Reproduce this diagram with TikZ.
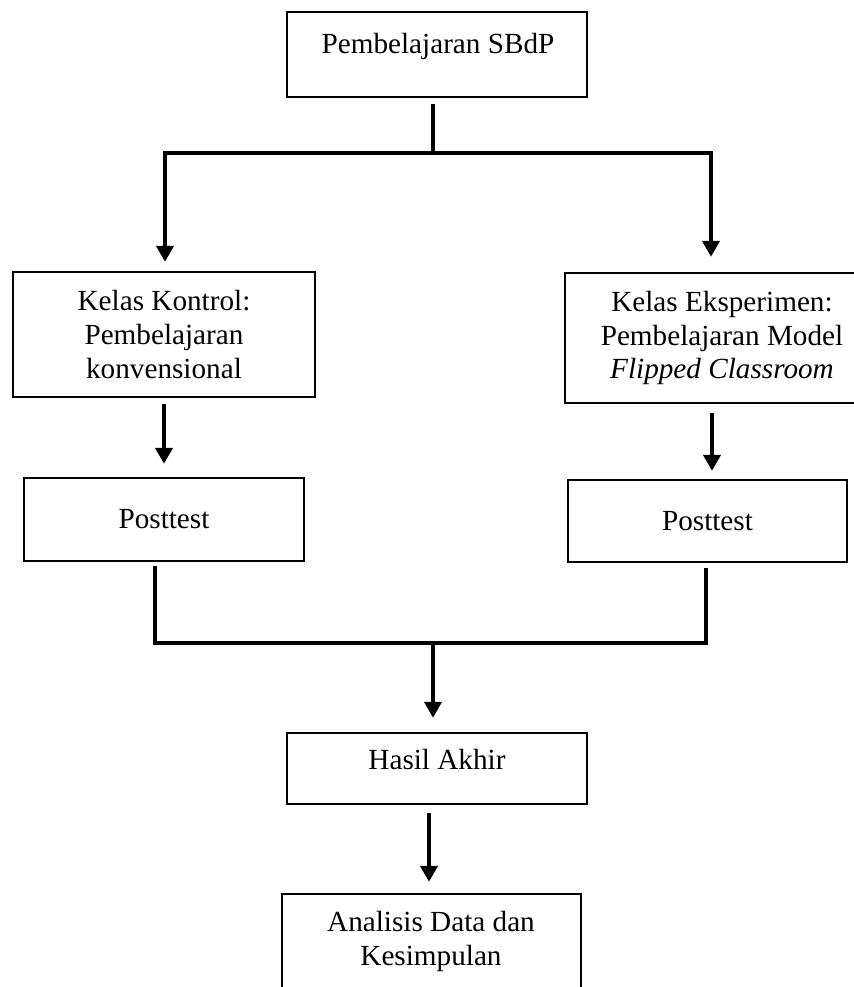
\documentclass[tikz,border=0pt]{standalone}
\usepackage{fontspec}
\setmainfont{Liberation Serif}
\usetikzlibrary{arrows.meta}
\begin{document}
\begin{tikzpicture}[x=0.5pt,y=-0.5pt,
  box/.style={draw, line width=1.2pt, rectangle, inner sep=0pt, align=center, font=\fontsize{14.6}{16.8}\selectfont},
  txt/.style={align=center, inner sep=0pt, font=\fontsize{14.6}{16.8}\selectfont},
  conn/.style={line width=2pt},
  arr/.style={line width=2pt, -{Triangle[width=8.5pt,length=8pt]}}]
\useasboundingbox (0,0) rectangle (853,987);

% boxes
\node[box, minimum width=150pt, minimum height=42.5pt] (top) at (437,54.5) {};
\node[txt, anchor=base] (toptxt) at (438,53) {Pembelajaran SBdP};

\node[box, minimum width=151pt, minimum height=62.5pt] (kk) at (164,334.5)
  {Kelas Kontrol:\\Pembelajaran\\konvensional};
\node[box, minimum width=157pt, minimum height=65pt] (ke) at (722,338)
  {Kelas Eksperimen:\\Pembelajaran Model\\\textit{Flipped Classroom}};

\node[box, minimum width=140pt, minimum height=41.5pt] (pl) at (164,519.5) {Posttest};
\node[box, minimum width=139.5pt, minimum height=41pt] (pr) at (707.5,521) {Posttest};

\node[box, minimum width=150pt, minimum height=35.5pt] (hasil) at (437,768.5) {};
\node[txt, anchor=base] (hasiltxt) at (437,769) {Hasil Akhir};

\node[box, minimum width=149.5pt, minimum height=53pt] (bot) at (431.5,947) {};
\node[txt] (bottxt) at (431,941.5) {Analisis Data dan\\Kesimpulan};

% junction coordinates
\coordinate (j1) at (433,153);
\coordinate (jl) at (165,153);
\coordinate (jr) at (711,153);
\coordinate (c2) at (712,0);
\coordinate (ml) at (155,643);
\coordinate (mr) at (706,643);
\coordinate (m) at (433,643);
\coordinate (c3) at (429,0);

% connectors
\draw[conn, shorten <=3pt] (top.south -| j1) -- (j1);
\draw[arr, shorten >=4.5pt] (j1) -- (jl) -- (jl |- kk.north);
\draw[arr, shorten >=7.5pt] (j1) -- (jr) -- (jr |- ke.north);
\draw[arr, shorten <=3pt, shorten >=6.5pt] (kk.south) -- (pl.north);
\draw[arr, shorten <=4.5pt, shorten >=4pt] (ke.south -| c2) -- (pr.north -| c2);
\draw[conn, shorten <=2pt, shorten >=2.5pt] (pl.south -| ml) -- (ml) -- (mr) -- (pr.south -| mr);
\draw[arr, shorten >=7pt] (m) -- (hasil.north -| m);
\draw[arr, shorten <=4pt, shorten >=5.5pt] (hasil.south -| c3) -- (bot.north -| c3);
\end{tikzpicture}
\end{document}
